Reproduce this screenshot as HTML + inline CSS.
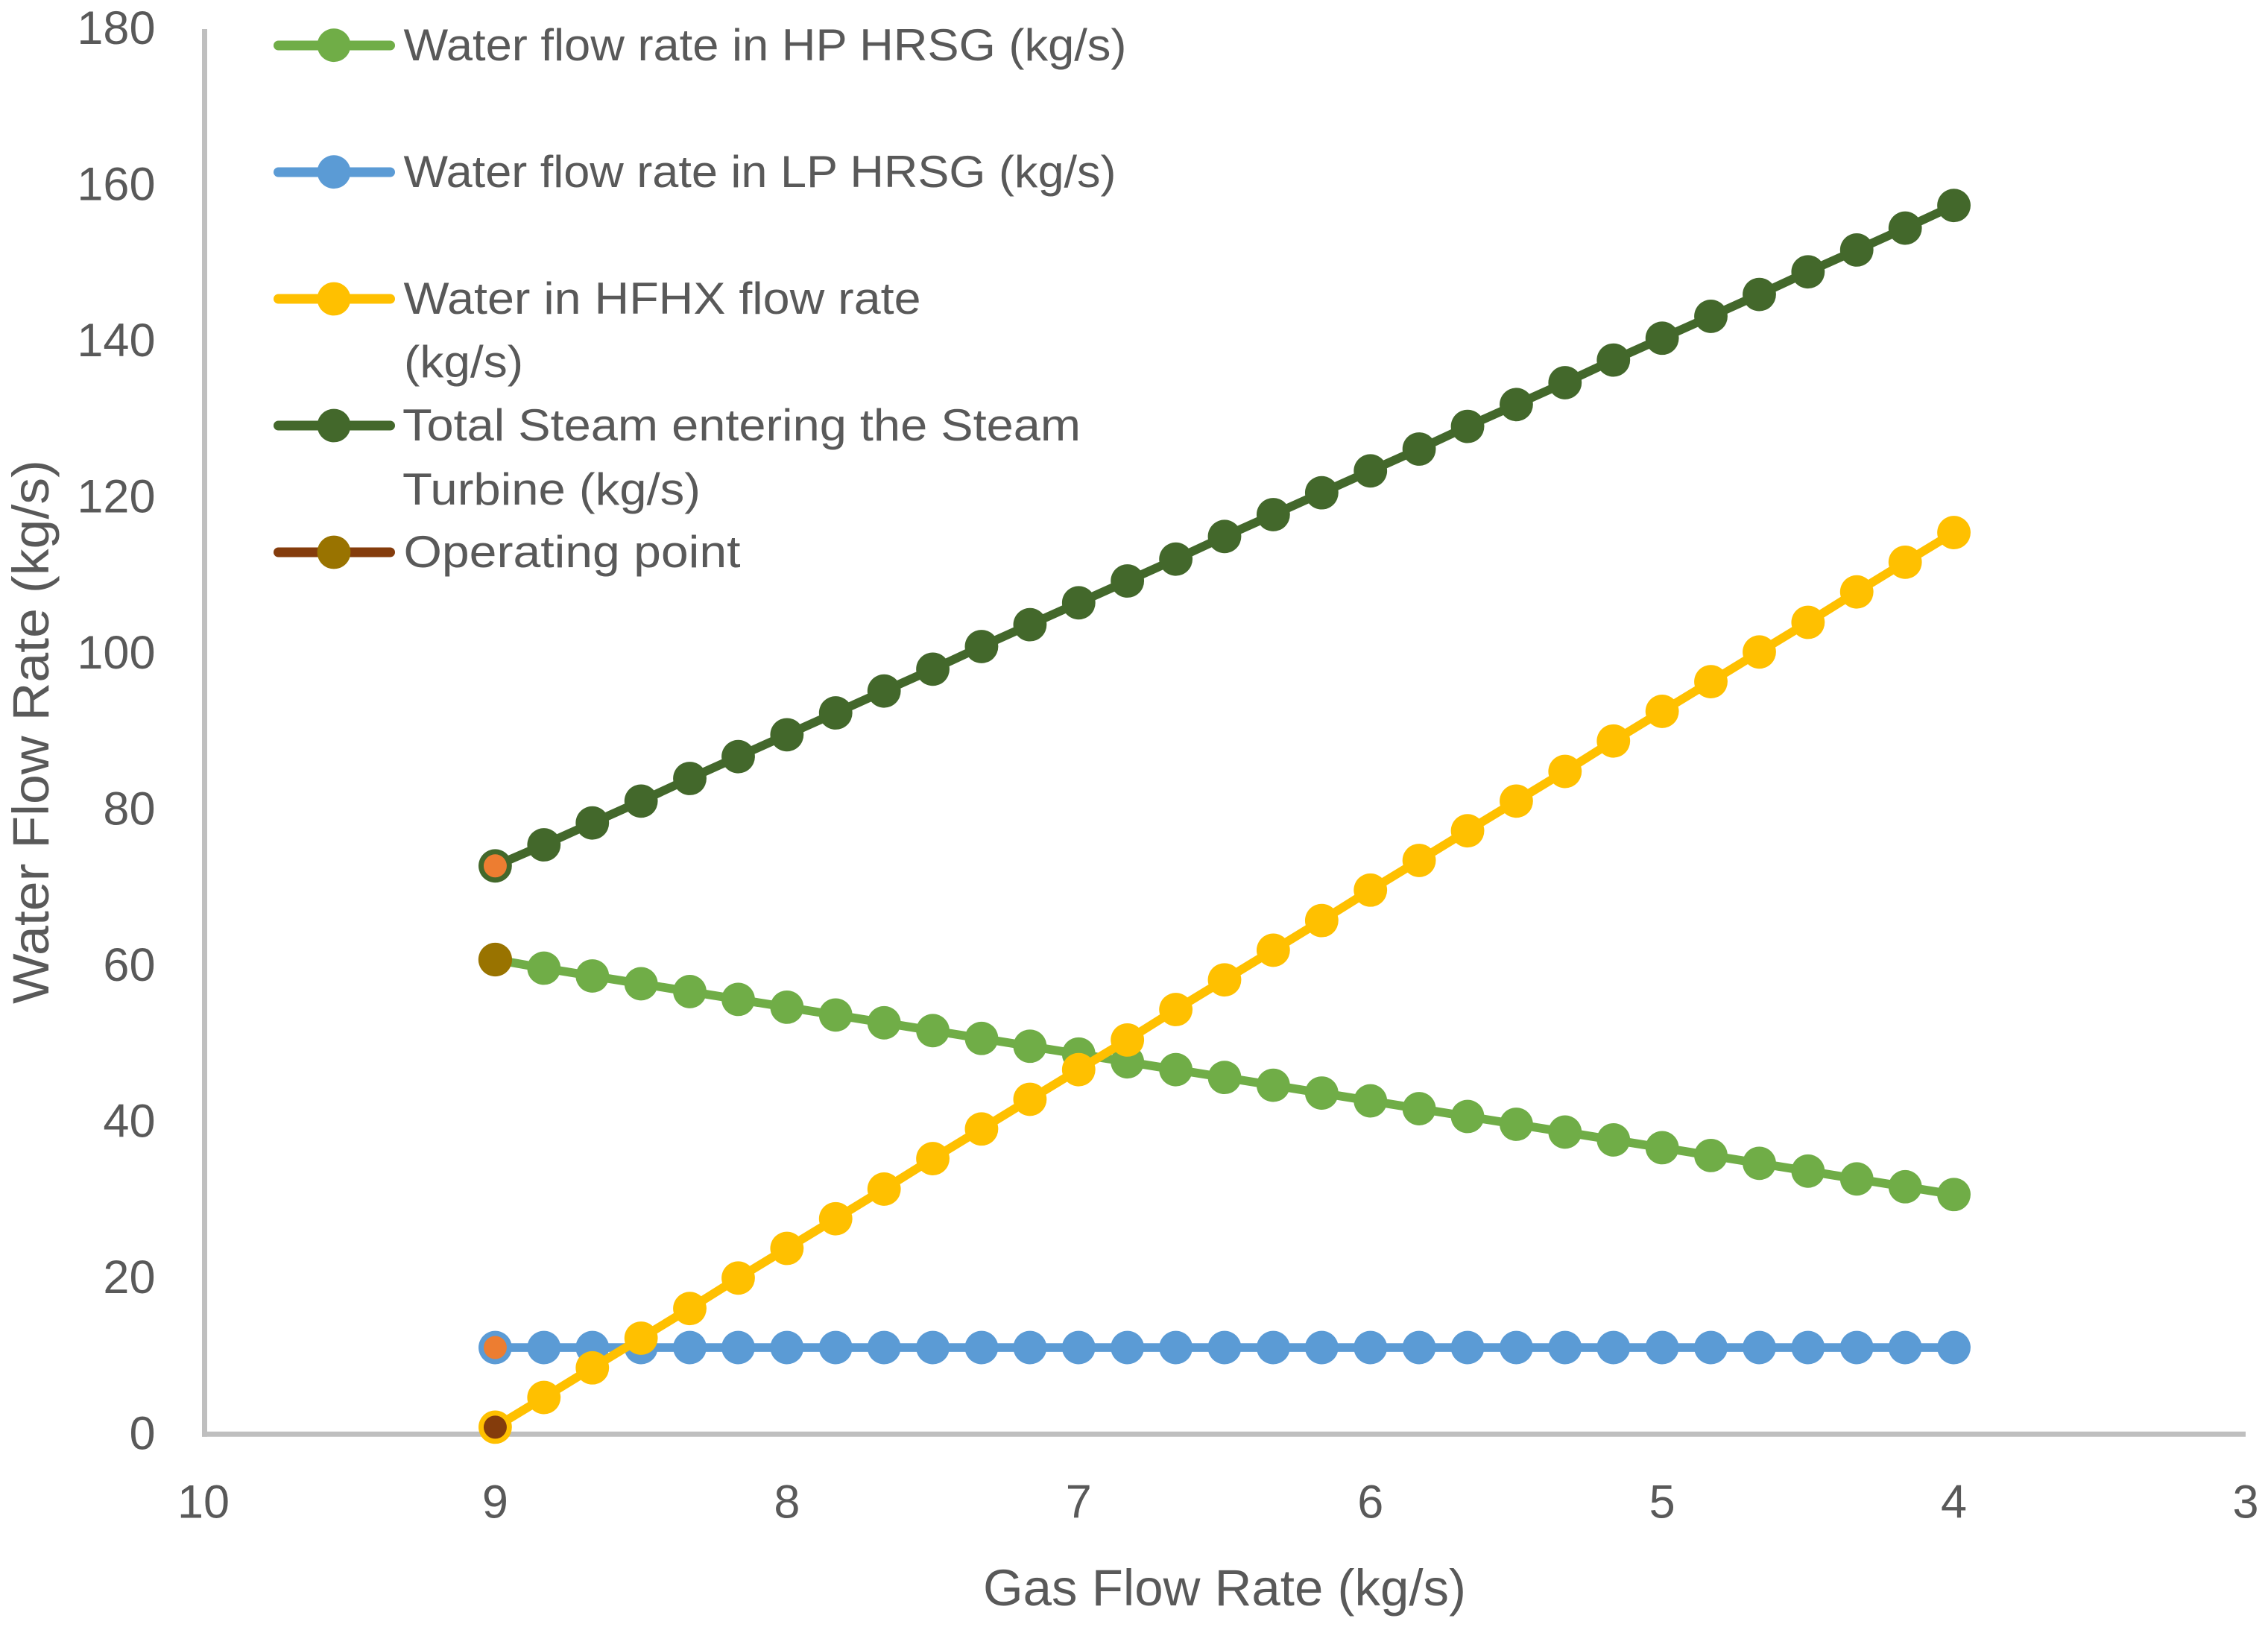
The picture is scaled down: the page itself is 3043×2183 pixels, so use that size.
<!DOCTYPE html>
<html lang="en">
<head>
<meta charset="utf-8">
<title>Water Flow Rate vs Gas Flow Rate</title>
<style>
html,body{margin:0;padding:0;background:#fff;}
svg{display:block;}
text{font-family:"Liberation Sans",sans-serif;fill:#595959;}
</style>
</head>
<body>
<svg id="chart" xmlns="http://www.w3.org/2000/svg" width="3043" height="2183" viewBox="0 0 3043 2183">
  <rect x="0" y="0" width="3043" height="2183" fill="#ffffff"/>
  <g id="axes"></g>
  <g id="series"></g>
  <text x="1319" y="2154" font-size="69" textLength="648" lengthAdjust="spacingAndGlyphs">Gas Flow Rate (kg/s)</text>
  <text transform="translate(65,1347) rotate(-90)" font-size="69" textLength="730" lengthAdjust="spacingAndGlyphs">Water Flow Rate (kg/s)</text>
  <g>
    <g>
      <line x1="373.5" y1="61" x2="523.5" y2="61" stroke="#70AD47" stroke-width="13" stroke-linecap="round"/>
      <circle cx="448" cy="60.7" r="22.4" fill="#70AD47"/>
      <text x="541.5" y="81" font-size="60" textLength="970" lengthAdjust="spacingAndGlyphs">Water flow rate in HP HRSG (kg/s)</text>
    </g>
    <g>
      <line x1="373.5" y1="231" x2="523.5" y2="231" stroke="#5B9BD5" stroke-width="13" stroke-linecap="round"/>
      <circle cx="448" cy="230.7" r="22.4" fill="#5B9BD5"/>
      <text x="541.5" y="251" font-size="60" textLength="956" lengthAdjust="spacingAndGlyphs">Water flow rate in LP HRSG (kg/s)</text>
    </g>
    <g>
      <line x1="373.5" y1="401" x2="523.5" y2="401" stroke="#FFC000" stroke-width="13" stroke-linecap="round"/>
      <circle cx="448" cy="401" r="22.4" fill="#FFC000"/>
      <text x="541.5" y="421" font-size="60" textLength="694" lengthAdjust="spacingAndGlyphs">Water in HFHX flow rate</text>
      <text x="542" y="506" font-size="60" textLength="160" lengthAdjust="spacingAndGlyphs">(kg/s)</text>
    </g>
    <g>
      <line x1="373.5" y1="571" x2="523.5" y2="571" stroke="#43682B" stroke-width="13" stroke-linecap="round"/>
      <circle cx="448" cy="571" r="22.4" fill="#43682B"/>
      <text x="540" y="591" font-size="60" textLength="910" lengthAdjust="spacingAndGlyphs">Total Steam entering the Steam</text>
      <text x="540" y="677" font-size="60" textLength="400" lengthAdjust="spacingAndGlyphs">Turbine (kg/s)</text>
    </g>
    <g>
      <line x1="373.5" y1="741" x2="523.5" y2="741" stroke="#843C0C" stroke-width="13" stroke-linecap="round"/>
      <circle cx="448" cy="741" r="22.4" fill="#997300"/>
      <text x="541.5" y="761" font-size="60" textLength="452" lengthAdjust="spacingAndGlyphs">Operating point</text>
    </g>
  </g>
</svg>
<script>
const xTickLabels = [10, 9, 8, 7, 6, 5, 4, 3];
const yTickLabels = [0, 20, 40, 60, 80, 100, 120, 140, 160, 180];
const gasFlow = [9, 8.833, 8.667, 8.5, 8.333, 8.167, 8, 7.833, 7.667, 7.5, 7.333, 7.167, 7, 6.833, 6.667, 6.5, 6.333, 6.167, 6, 5.833, 5.667, 5.5, 5.333, 5.167, 5, 4.833, 4.667, 4.5, 4.333, 4.167, 4];
const hpWater = [60.8, 59.7, 58.7, 57.7, 56.7, 55.7, 54.7, 53.7, 52.7, 51.7, 50.7, 49.7, 48.7, 47.7, 46.7, 45.7, 44.7, 43.7, 42.7, 41.7, 40.7, 39.7, 38.7, 37.7, 36.7, 35.7, 34.7, 33.7, 32.7, 31.7, 30.7];
const lpWater = [11.1, 11.1, 11.1, 11.1, 11.1, 11.1, 11.1, 11.1, 11.1, 11.1, 11.1, 11.1, 11.1, 11.1, 11.1, 11.1, 11.1, 11.1, 11.1, 11.1, 11.1, 11.1, 11.1, 11.1, 11.1, 11.1, 11.1, 11.1, 11.1, 11.1, 11.1];
const hfhxWater = [0.9, 4.7, 8.5, 12.3, 16.1, 20.0, 23.8, 27.6, 31.4, 35.3, 39.1, 42.9, 46.7, 50.5, 54.4, 58.2, 62.0, 65.8, 69.7, 73.5, 77.3, 81.1, 84.9, 88.8, 92.6, 96.4, 100.2, 104.0, 107.9, 111.7, 115.5];
const totalSteam = [72.8, 75.5, 78.3, 81.1, 84.0, 86.8, 89.6, 92.4, 95.2, 98.0, 100.9, 103.7, 106.5, 109.3, 112.1, 115.0, 117.8, 120.6, 123.4, 126.2, 129.1, 131.9, 134.7, 137.6, 140.4, 143.2, 146.0, 148.9, 151.7, 154.5, 157.4];
const operatingGas = [9, 9, 9, 9];
const operatingFlow = [72.8, 60.8, 11.1, 0.9];

const SVG_NS = 'http://www.w3.org/2000/svg';
const xAxisLeft = 273;
const xAxisRight = 3013;
const yAxisBottom = 1924.3;
const yAxisTop = 39;

function xScale(v) {
  return xAxisLeft + (10 - v) * (xAxisRight - xAxisLeft) / 7;
}
function yScale(v) {
  return yAxisBottom - v * (yAxisBottom - yAxisTop) / 180;
}
function make(tag, attrs, parent) {
  const el = document.createElementNS(SVG_NS, tag);
  Object.keys(attrs).forEach(function (k) { el.setAttribute(k, attrs[k]); });
  parent.appendChild(el);
  return el;
}

const axes = document.getElementById('axes');
const seriesRoot = document.getElementById('series');

const yAxisLine = make('line', { x1: 274.5, y1: yAxisTop, x2: 274.5, y2: yAxisBottom + 3.5, stroke: '#BFBFBF', 'stroke-width': 7 }, axes);



const xAxisLine = make('line', { x1: 271, y1: yAxisBottom, x2: xAxisRight, y2: yAxisBottom, stroke: '#BFBFBF', 'stroke-width': 7 }, axes);



yTickLabels.forEach(function (t) {
  const label = make('text', { x: 208.5, y: yScale(t) + 20, 'font-size': 63, 'text-anchor': 'end' }, axes);
  
  
  label.textContent = String(t);
});

xTickLabels.forEach(function (t) {
  const label = make('text', { x: xScale(t), y: 2036.5, 'font-size': 63, 'text-anchor': 'middle' }, axes);
  
  
  label.textContent = String(t);
});

function drawSeries(name, values, color) {
  const group = make('g', {}, seriesRoot);
  
  
  const pts = gasFlow.map(function (g, i) { return xScale(g).toFixed(2) + ',' + yScale(values[i]).toFixed(2); });
  const line = make('polyline', { points: pts.join(' '), fill: 'none', stroke: color, 'stroke-width': 11.7, 'stroke-linejoin': 'round', 'stroke-linecap': 'round' }, group);
  
  
  gasFlow.forEach(function (g, i) {
    const dot = make('circle', { cx: xScale(g), cy: yScale(values[i]), r: 22.4, fill: color }, group);
    
    
  });
}

drawSeries('hp-water', hpWater, '#70AD47');
drawSeries('lp-water', lpWater, '#5B9BD5');
drawSeries('hfhx-water', hfhxWater, '#FFC000');
drawSeries('total-steam', totalSteam, '#43682B');

const operatingColors = ['#ED7D31', '#997300', '#ED7D31', '#843C0C'];
const operatingRadii = [15.5, 22.6, 15.5, 15.5];
operatingFlow.forEach(function (v, i) {
  const dot = make('circle', { cx: xScale(operatingGas[i]), cy: yScale(v), r: operatingRadii[i], fill: operatingColors[i] }, seriesRoot);
  
  
});
</script>
</body>
</html>
